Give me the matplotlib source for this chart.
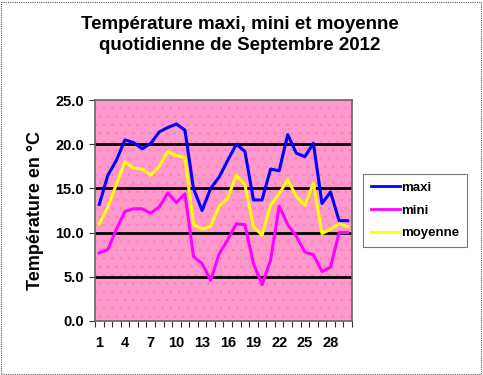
import matplotlib
matplotlib.use("Agg")
import matplotlib.pyplot as plt
import numpy as np
from matplotlib.patches import Rectangle

days = list(range(1, 31))
maxi = [13.2, 16.5, 18.2, 20.5, 20.2, 19.5, 20.1, 21.4, 21.9, 22.3, 21.6, 15.0, 12.5, 15.0, 16.3,
        18.2, 20.0, 19.2, 13.7, 13.7, 17.2, 17.0, 21.1, 19.0, 18.6, 20.1, 13.3, 14.6, 11.35, 11.35]
mini = [7.7, 8.1, 10.4, 12.4, 12.7, 12.7, 12.2, 12.9, 14.5, 13.4, 14.4, 7.3, 6.5, 4.6, 7.6,
        9.2, 11.0, 10.9, 6.5, 4.1, 6.9, 13.0, 10.9, 9.6, 7.8, 7.5, 5.6, 6.1, 10.0, 10.0]
moyenne = [11.0, 12.9, 15.5, 18.0, 17.3, 17.2, 16.5, 17.5, 19.2, 18.7, 18.5, 10.9, 10.4, 10.7, 13.0,
           13.9, 16.5, 15.4, 10.7, 9.7, 13.1, 14.4, 16.0, 14.1, 13.1, 15.6, 9.9, 10.4, 11.0, 10.7]
xtick_labels = [1, 4, 7, 10, 13, 16, 19, 22, 25, 28]
yticks = [0, 5, 10, 15, 20, 25]

plt.rcParams['font.family'] = ['Liberation Sans', 'DejaVu Sans']
plt.rcParams['hatch.linewidth'] = 0.4

fig = plt.figure(figsize=(4.83, 3.75), dpi=100)
fig.patches.append(Rectangle((0.003, 0.004), 0.992, 0.992, transform=fig.transFigure,
                             fill=False, edgecolor='#555555', linewidth=0.8, linestyle=(0, (1, 1))))

ax = fig.add_axes([0.1967, 0.144, 0.532, 0.589])
ax.set_facecolor('#FF99CC')
ax.add_patch(Rectangle((0, 0), 1, 1, transform=ax.transAxes, facecolor='none',
                       edgecolor='#FF77BB', hatch='..', linewidth=0, zorder=0.5))

for y in yticks[1:-1]:
    ax.axhline(y, color='black', linewidth=2, zorder=1)

ax.plot(days, maxi, color='#0000FF', linewidth=2.2, label='maxi', zorder=3)
ax.plot(days, mini, color='#FF00FF', linewidth=2.2, label='mini', zorder=3)
ax.plot(days, moyenne, color='#FFFF00', linewidth=2.2, label='moyenne', zorder=3)

ax.set_xlim(0.5, 30.5)
ax.set_ylim(0, 25)
ax.set_yticks(yticks)
ax.set_yticklabels([f"{v:.1f}" for v in yticks], fontsize=10.5, fontweight='bold')
ax.set_xticks(xtick_labels)
ax.set_xticklabels([str(v) for v in xtick_labels], fontsize=10.5, fontweight='bold')
ax.tick_params(axis='x', which='major', length=0, pad=11)
ax.set_xticks(np.arange(0.5, 31, 1), minor=True)
ax.tick_params(axis='x', which='minor', length=4, color='#333333', width=0.8)
ax.tick_params(axis='y', length=4, color='#333333', width=0.8, pad=4)

for s in ax.spines.values():
    s.set_color('#666666')
    s.set_linewidth(1.2)

ax.set_ylabel('Température en °C', fontsize=13, fontweight='bold', labelpad=8)

fig.text(0.497, 0.907, 'Température maxi, mini et moyenne\nquotidienne de Septembre 2012',
         ha='center', va='center', fontsize=13.5, fontweight='bold', linespacing=1.25)

leg = fig.legend(loc='upper left', bbox_to_anchor=(0.751, 0.537), frameon=True, fancybox=False,
                 prop={'weight': 'bold', 'size': 9.5}, handlelength=2.2, labelspacing=0.8,
                 borderpad=0.6, handletextpad=0.1, borderaxespad=0)
leg.get_frame().set_edgecolor('#555555')
leg.get_frame().set_linewidth(0.8)
for line in leg.get_lines():
    line.set_linewidth(2)

fig.savefig('out.png', dpi=100)
